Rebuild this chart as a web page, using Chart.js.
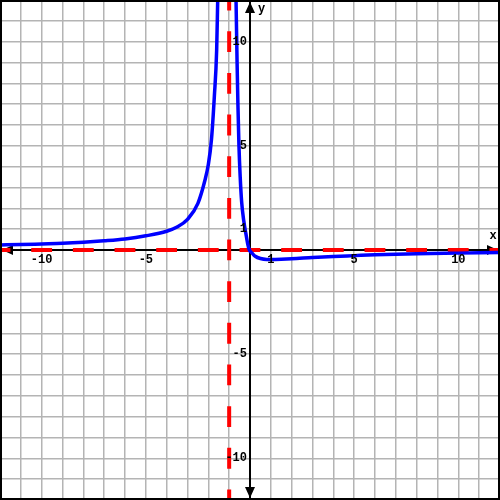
<!DOCTYPE html>
<html>
<head>
<meta charset="utf-8">
<script src="https://cdn.jsdelivr.net/npm/chart.js@4.4.1/dist/chart.umd.min.js"></script>
<style>
html,body{margin:0;padding:0;background:#fff;}
#wrap{width:500px;height:500px;}
</style>
</head>
<body>
<div id="wrap"><canvas id="c" width="500" height="500"></canvas></div>
<script>
// Axis range
const xRange = [-12, 12];
const yRange = [-12, 12];
// Tick labels shown along the axes
const xTickLabels = [-10, -5, 5, 10];
const yTickLabels = [10, 5, -5, -10];
const unitLabels = [1];
// Curve readings (left branch, x < -1)
const leftX = [-12, -11, -10, -9, -8, -7, -6, -5, -4, -3.5, -3, -2.5, -2.16, -2, -1.85, -1.71, -1.6, -1.55];
const leftY = [0.24, 0.26, 0.29, 0.32, 0.37, 0.44, 0.53, 0.68, 0.9, 1.1, 1.47, 2.24, 3.36, 4.1, 5.3, 7.4, 9.6, 12];
// Curve readings (right branch, x > -1)
const rightX = [-0.67, -0.62, -0.58, -0.53, -0.47, -0.4, -0.3, -0.2, -0.1, -0.03, 0.1, 0.25, 0.5, 0.8, 1, 1.5, 2, 3, 4, 5, 6, 7, 8, 10, 12];
const rightY = [12, 9, 7, 5, 3.5, 2.3, 1.4, 0.8, 0.25, 0, -0.15, -0.3, -0.41, -0.45, -0.45, -0.44, -0.42, -0.36, -0.31, -0.27, -0.23, -0.2, -0.18, -0.15, -0.12];
// Asymptotes
const vAsymptoteX = -1;
const hAsymptoteY = 0;

const toPts = (xs, ys) => xs.map((x, i) => ({x: x, y: ys[i]}));

const FONT = 'bold 12px "Liberation Mono", "DejaVu Sans Mono", monospace';

const axesPlugin = {
  id: 'axesPlugin',
  beforeDatasetsDraw(chart) {
    const ctx = chart.ctx;
    const xs = chart.scales.x, ys = chart.scales.y;
    const x0 = xs.getPixelForValue(0), y0 = ys.getPixelForValue(0);
    const L = xs.getPixelForValue(xRange[0]), R = xs.getPixelForValue(xRange[1]);
    const T = ys.getPixelForValue(yRange[1]), B = ys.getPixelForValue(yRange[0]);
    ctx.save();
    ctx.strokeStyle = '#000';
    ctx.fillStyle = '#000';
    ctx.lineWidth = 2;
    ctx.beginPath();
    ctx.moveTo(L, y0); ctx.lineTo(R, y0);
    ctx.moveTo(x0, T); ctx.lineTo(x0, B);
    ctx.stroke();
    // arrow heads
    const tri = (a, b, c) => { ctx.beginPath(); ctx.moveTo(a[0], a[1]); ctx.lineTo(b[0], b[1]); ctx.lineTo(c[0], c[1]); ctx.closePath(); ctx.fill(); };
    tri([x0, T + 2], [x0 - 5, T + 13], [x0 + 5, T + 13]);
    tri([x0, B - 2], [x0 - 5, B - 13], [x0 + 5, B - 13]);
    tri([L + 2, y0], [L + 13, y0 - 5], [L + 13, y0 + 5]);
    tri([R - 2, y0], [R - 13, y0 - 5], [R - 13, y0 + 5]);
    ctx.restore();
  },
  afterDraw(chart) {
    const ctx = chart.ctx;
    const xs = chart.scales.x, ys = chart.scales.y;
    const x0 = xs.getPixelForValue(0), y0 = ys.getPixelForValue(0);
    ctx.save();
    ctx.fillStyle = '#000';
    ctx.font = FONT;
    ctx.textAlign = 'center';
    ctx.textBaseline = 'top';
    xTickLabels.forEach(v => ctx.fillText(String(v), xs.getPixelForValue(v), y0 + 4));
    unitLabels.forEach(v => ctx.fillText(String(v), xs.getPixelForValue(v), y0 + 4));
    ctx.textAlign = 'right';
    ctx.textBaseline = 'middle';
    yTickLabels.forEach(v => ctx.fillText(String(v), x0 - 3, ys.getPixelForValue(v)));
    unitLabels.forEach(v => ctx.fillText(String(v), x0 - 3, ys.getPixelForValue(v)));
    // axis names
    ctx.textAlign = 'center';
    ctx.textBaseline = 'alphabetic';
    ctx.fillText('x', xs.getPixelForValue(xRange[1]) - 7, y0 - 11);
    ctx.textAlign = 'left';
    ctx.textBaseline = 'top';
    ctx.fillText('y', x0 + 8, ys.getPixelForValue(yRange[1]) + 3);
    // frame
    ctx.strokeStyle = '#000';
    ctx.lineWidth = 2;
    ctx.strokeRect(1, 1, chart.width - 2, chart.height - 2);
    ctx.restore();
  }
};

new Chart(document.getElementById('c'), {
  type: 'scatter',
  data: {
    datasets: [
      {
        data: [{x: xRange[0], y: hAsymptoteY}, {x: xRange[1], y: hAsymptoteY}],
        showLine: true, borderColor: '#ff0000', borderWidth: 4,
        borderDash: [20.83, 20.83], borderDashOffset: 10.42,
        pointRadius: 0, order: 2
      },
      {
        data: [{x: vAsymptoteX, y: yRange[1]}, {x: vAsymptoteX, y: yRange[0]}],
        showLine: true, borderColor: '#ff0000', borderWidth: 4,
        borderDash: [20.83, 20.83], borderDashOffset: 10.42,
        pointRadius: 0, order: 2
      },
      {
        data: toPts(leftX, leftY),
        showLine: true, borderColor: '#0000ff', borderWidth: 3.5,
        cubicInterpolationMode: 'monotone', pointRadius: 0, order: 1
      },
      {
        data: toPts(rightX, rightY),
        showLine: true, borderColor: '#0000ff', borderWidth: 3.5,
        cubicInterpolationMode: 'monotone', pointRadius: 0, order: 1
      }
    ]
  },
  options: {
    responsive: false,
    animation: false,
    layout: {padding: 0},
    plugins: {legend: {display: false}, tooltip: {enabled: false}},
    scales: {
      x: {
        type: 'linear', min: xRange[0], max: xRange[1],
        ticks: {display: false, stepSize: 1},
        grid: {color: '#b4b4b4', lineWidth: 1.5, drawTicks: false},
        border: {display: false}
      },
      y: {
        type: 'linear', min: yRange[0], max: yRange[1],
        ticks: {display: false, stepSize: 1},
        grid: {color: '#b4b4b4', lineWidth: 1.5, drawTicks: false},
        border: {display: false}
      }
    }
  },
  plugins: [axesPlugin]
});
</script>
</body>
</html>
